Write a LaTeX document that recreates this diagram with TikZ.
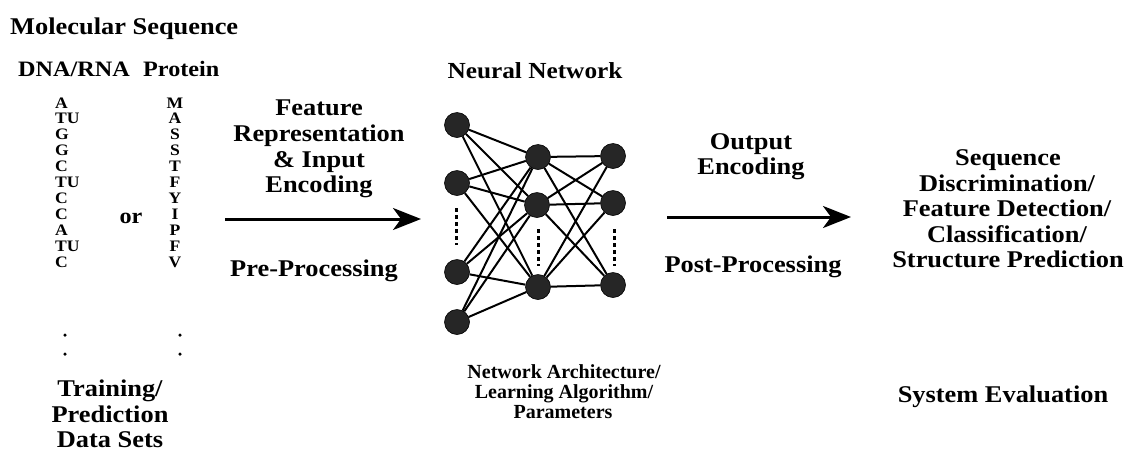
\documentclass[tikz,border=0pt]{standalone}
\usepackage{fontspec}
\setmainfont[FakeStretch=1.1]{Liberation Serif}
\newfontfamily\plainserif{Liberation Serif}
\usetikzlibrary{arrows.meta}
\tikzset{
  lbl/.style={anchor=base, inner sep=0pt, font=\bfseries\fontsize{24}{26}\selectfont},
  lblw/.style={anchor=base west, inner sep=0pt, font=\bfseries\fontsize{24}{26}\selectfont},
  hdr/.style={anchor=base west, inner sep=0pt, font=\bfseries\fontsize{22}{24}\selectfont},
  small/.style={anchor=base, inner sep=0pt, font=\plainserif\bfseries\fontsize{20}{21}\selectfont},
  seqw/.style={anchor=base west, inner sep=0pt, font=\bfseries\fontsize{16}{16}\selectfont},
  seqc/.style={anchor=base, inner sep=0pt, font=\bfseries\fontsize{16}{16}\selectfont},
  sdot/.style={circle, fill=black, inner sep=0pt, minimum size=3.5pt},
  neuron/.style={circle, fill=black!85, draw=black, line width=0.6pt, inner sep=0pt, minimum size=25pt},
  link/.style={line width=2pt, black},
  dotcol/.style={line width=3pt, dash pattern=on 3.5pt off 3.5pt, black},
  bigarrow/.style={line width=3pt, -{Stealth[length=28pt,width=22pt,inset=8pt]}}
}
\begin{document}
\begin{tikzpicture}[x=1pt,y=-1pt]
\useasboundingbox (0,0) rectangle (1128,451);

% left column
\node[lblw] (molseq) at (10,34) {Molecular Sequence};
\node[hdr] (dna) at (18,76) {DNA/RNA};
\node[hdr] (prot) at (143,76) {Protein};
\foreach \l [count=\i] in {A,TU,G,G,C,TU,C,C,A,TU,C}
  \node[seqw] (d\i) at (55,{108+15.9*(\i-1)}) {\l};
\foreach \l [count=\i] in {M,A,S,S,T,F,Y,I,P,F,V}
  \node[seqc] (p\i) at (175,{108+15.9*(\i-1)}) {\l};
\node[sdot] (dd1) at (65,335) {};
\node[sdot] (dd2) at (65,354) {};
\node[sdot] (pd1) at (180,335) {};
\node[sdot] (pd2) at (180,354) {};
\node[hdr, anchor=base] (or) at (131,223) {or};
\node[lbl] (tr1) at (110,396) {Training/};
\node[lbl] (tr2) at (110,422) {Prediction};
\node[lbl] (tr3) at (110,447) {Data Sets};

% first arrow and labels
\node[lbl] (fr1) at (319,115) {Feature};
\node[lbl] (fr2) at (319,141) {Representation};
\node[lbl] (fr3) at (319,167) {\& Input};
\node[lbl] (fr4) at (319,192) {Encoding};
\coordinate (a1s) at (225,219);
\coordinate (a1e) at (421,219);
\draw[bigarrow] (a1s) -- (a1e);
\node[lbl] (pre) at (314,276) {Pre-Processing};

% neural network
\node[lbl, font=\bfseries\fontsize{23}{25}\selectfont] (nn) at (535,78) {Neural Network};
\node[neuron] (i1) at (457,125) {};
\node[neuron] (i2) at (457,183) {};
\node[neuron] (i3) at (457,272) {};
\node[neuron] (i4) at (457,322) {};
\node[neuron] (h1) at (538,157) {};
\node[neuron] (h2) at (537,205) {};
\node[neuron] (h3) at (538,287) {};
\node[neuron] (o1) at (613,156) {};
\node[neuron] (o2) at (613,203) {};
\node[neuron] (o3) at (613,285) {};
\foreach \a in {i1,i2,i3,i4}
  \foreach \b in {h1,h2,h3}
    \draw[link] (\a) -- (\b);
\foreach \a in {h1,h2,h3}
  \foreach \b in {o1,o2,o3}
    \draw[link] (\a) -- (\b);
\coordinate (ic1) at (456,208);
\coordinate (ic2) at (456,245);
\coordinate (hc1) at (538,229);
\coordinate (hc2) at (538,266);
\coordinate (oc1) at (614,229);
\coordinate (oc2) at (614,266);
\draw[dotcol] (ic1) -- (ic2);
\draw[dotcol] (hc1) -- (hc2);
\draw[dotcol] (oc1) -- (oc2);
\node[small] (na1) at (564,378) {Network Architecture/};
\node[small] (na2) at (564,398) {Learning Algorithm/};
\node[small] (na3) at (563,418) {Parameters};

% second arrow and labels
\node[lbl] (oe1) at (751,149) {Output};
\node[lbl] (oe2) at (751,174) {Encoding};
\coordinate (a2s) at (667,217);
\coordinate (a2e) at (851,217);
\draw[bigarrow] (a2s) -- (a2e);
\node[lbl] (post) at (753,272) {Post-Processing};

% right column
\node[lbl] (r1) at (1008,165) {Sequence};
\node[lbl] (r2) at (1007,191) {Discrimination/};
\node[lbl] (r3) at (1007,216) {Feature Detection/};
\node[lbl] (r4) at (1007,242) {Classification/};
\node[lbl] (r5) at (1008,267) {Structure Prediction};
\node[lbl] (se) at (1003,402) {System Evaluation};
\end{tikzpicture}
\end{document}
